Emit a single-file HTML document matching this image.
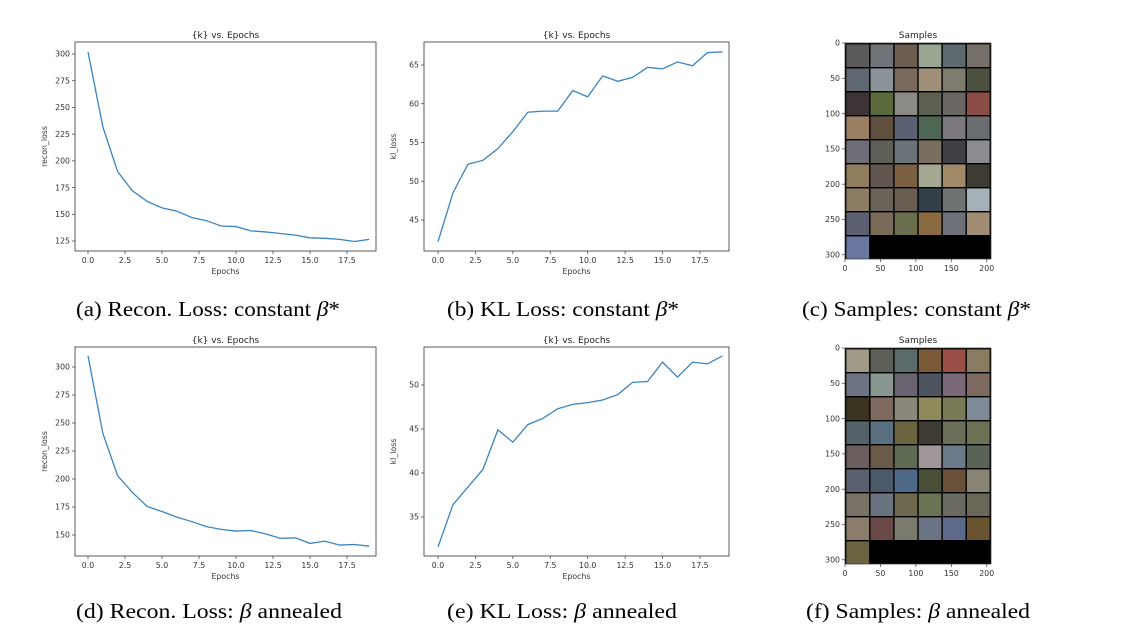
<!DOCTYPE html>
<html><head><meta charset="utf-8">
<style>
html,body{margin:0;padding:0;background:#fff;}
svg{display:block;}
.tk{font-family:"DejaVu Sans","Liberation Sans",sans-serif;font-size:7.8px;fill:#333;}
.tt{font-family:"DejaVu Sans","Liberation Sans",sans-serif;font-size:9px;fill:#222;}
.cap{font-family:"Liberation Serif",serif;font-size:21px;fill:#000;}
</style></head>
<body>
<svg id="fig" width="1130" height="632" viewBox="0 0 1130 632" xmlns="http://www.w3.org/2000/svg">
<text class="cap" x="76" y="316" textLength="264" lengthAdjust="spacingAndGlyphs">(a) Recon. Loss: constant <tspan font-style="italic">β</tspan>*</text>
<text class="cap" x="447" y="316" textLength="232" lengthAdjust="spacingAndGlyphs">(b) KL Loss: constant <tspan font-style="italic">β</tspan>*</text>
<text class="cap" x="802" y="316" textLength="229" lengthAdjust="spacingAndGlyphs">(c) Samples: constant <tspan font-style="italic">β</tspan>*</text>
<text class="cap" x="76" y="618" textLength="266" lengthAdjust="spacingAndGlyphs">(d) Recon. Loss: <tspan font-style="italic">β</tspan> annealed</text>
<text class="cap" x="447" y="618" textLength="230" lengthAdjust="spacingAndGlyphs">(e) KL Loss: <tspan font-style="italic">β</tspan> annealed</text>
<text class="cap" x="806" y="618" textLength="224" lengthAdjust="spacingAndGlyphs">(f) Samples: <tspan font-style="italic">β</tspan> annealed</text>
</svg>
<script>
const epochs = [0,1,2,3,4,5,6,7,8,9,10,11,12,13,14,15,16,17,18,19];
const xTicks = [0,2.5,5,7.5,10,12.5,15,17.5];
const reconConst = [302,232,190,172,162,156,153,147,144,139,138.5,134.5,133.5,132,130.5,128,127.5,126.5,124.5,126.5];
const klConst = [42.2,48.5,52.2,52.7,54.2,56.4,58.9,59.05,59.05,61.7,60.9,63.6,62.9,63.4,64.7,64.5,65.4,64.9,66.6,66.7];
const reconAnneal = [310,241,203,188,175.5,171,166,162,157.5,155,153.5,154,151,147,147.5,142.5,144.5,141,141.5,140];
const klAnneal = [31.6,36.4,38.4,40.4,44.9,43.5,45.5,46.2,47.3,47.8,48,48.3,48.9,50.3,50.4,52.6,50.9,52.6,52.4,53.3];
const reconConstTicks = [125,150,175,200,225,250,275,300];
const klConstTicks = [45,50,55,60,65];
const reconAnnealTicks = [150,175,200,225,250,275,300];
const klAnnealTicks = [35,40,45,50];
const sampleTicksX = [0,50,100,150,200];
const sampleTicksY = [0,50,100,150,200,250,300];

const NS = "http://www.w3.org/2000/svg";
const fig = document.getElementById('fig');
function mk(tag, attrs, parent){
  const e = document.createElementNS(NS, tag);
  for (const k in attrs) e.setAttribute(k, attrs[k]);
  (parent||fig).appendChild(e);
  return e;
}
function fmt(v){ return Number.isInteger(v) ? v.toFixed(1) : String(v); }

function lineChart(name, box, xs, ys, yTicks, yLabel, yCal){
  const g = mk('g', {});
  
  
  const xScale = v => box.x0x + (v) * box.xu;
  const yScale = v => yCal[1] + (v - yCal[0]) * (yCal[3]-yCal[1])/(yCal[2]-yCal[0]);
  const frame = mk('rect', {x:box.l, y:box.t, width:box.r-box.l, height:box.b-box.t, fill:'none', stroke:'#333', 'stroke-width':0.8}, g);
  
  
  const title = mk('text', {x:(box.l+box.r)/2, y:box.t-4, 'text-anchor':'middle', class:'tt'}, g);
  title.textContent = '{k} vs. Epochs';
  
  
  xTicks.forEach(v => {
    const x = xScale(v);
    mk('line', {x1:x, x2:x, y1:box.b, y2:box.b+3, stroke:'#333', 'stroke-width':0.7}, g);
    const t = mk('text', {x:x, y:box.b+12, 'text-anchor':'middle', class:'tk'}, g);
    t.textContent = fmt(v);
    
    
  });
  yTicks.forEach(v => {
    const y = yScale(v);
    mk('line', {x1:box.l-3, x2:box.l, y1:y, y2:y, stroke:'#333', 'stroke-width':0.7}, g);
    const t = mk('text', {x:box.l-5, y:y+2.7, 'text-anchor':'end', class:'tk'}, g);
    t.textContent = v;
    
    
  });
  const xl = mk('text', {x:(box.l+box.r)/2, y:box.b+23, 'text-anchor':'middle', class:'tk'}, g);
  xl.textContent = 'Epochs';
  
  
  const yx = box.l - 28, ym = (box.t+box.b)/2;
  const yl = mk('text', {x:yx, y:ym, 'text-anchor':'middle', class:'tk', transform:`rotate(-90 ${yx} ${ym})`}, g);
  yl.textContent = yLabel;
  
  
  const pts = xs.map((x,i) => xScale(x).toFixed(2) + ',' + yScale(ys[i]).toFixed(2)).join(' ');
  const pl = mk('polyline', {points:pts, fill:'none', stroke:'#3a84c1', 'stroke-width':1.3}, g);
  
  
}

lineChart('recon-loss-constant', {l:75,r:376,t:42,b:251,x0x:88,xu:14.8}, epochs, reconConst, reconConstTicks, 'recon_loss', [300,54,125,241]);
lineChart('kl-loss-constant', {l:424,r:729,t:42,b:251,x0x:438,xu:14.97}, epochs, klConst, klConstTicks, 'kl_loss', [65,65,45,220]);
lineChart('recon-loss-annealed', {l:75,r:376,t:347,b:556,x0x:88,xu:14.8}, epochs, reconAnneal, reconAnnealTicks, 'recon_loss', [300,367,150,535]);
lineChart('kl-loss-annealed', {l:424,r:729,t:347,b:556,x0x:438,xu:14.97}, epochs, klAnneal, klAnnealTicks, 'kl_loss', [50,385,35,517]);

const palA = ['#5a5a58','#6f7478','#6b5d50','#9aa592','#5d6a6e','#77706a','#5f6770','#8a9499','#7a6a5c','#a09077','#7e7c6e','#4c5140','#3e3436','#5b6a3a','#8c8a84','#5c6050','#6a6661','#8a4d46','#9a7f62','#5f5040','#5b6170','#4e6654','#7c7880','#6a6d70','#6f6d78','#5e6058','#6b7478','#7a6f5e','#3f4146','#8a8c90','#8f7d5e','#5f5650','#7a6040','#a4a890','#a08a68','#3e3a34','#8a7d62','#6a6458','#6a5d52','#33404a','#6f7472','#a6b0b8','#5d6070','#7a6a58','#6a6e4e','#8a6a40','#6e7278','#a08c74','#6a78a0'];
const palB = ['#a29a88','#5c6058','#5b6a6a','#7a5a38','#9a5048','#8a7c60','#6f7484','#8a9690','#6a6470','#4e5460','#7a6a78','#7e6a60','#3a3420','#7e6a60','#8a887a','#8e8a5a','#7a7a58','#7e8a96','#56626a','#5a7080','#6a6440','#3e3c34','#6a6e58','#6c7256','#6a5e5e','#6a5a4a','#5e6a52','#a09898','#6a7a88','#5a6456','#5a6070','#4a5a6a','#4e6a88','#4a5038','#6a5038','#8a8474','#7a7266','#6a7480','#6e684e','#6a7454','#6a6a62','#6a6658','#8a7e6a','#6a4a48','#7a7a6e','#6a7484','#5e6a8a','#6a5430','#6a6440'];

function samples(name, x0, y0, pal){
  const g = mk('g', {});
  
  
  const W = 146, H = 216, sx = W/206, sy = H/306;
  mk('rect', {x:x0, y:y0, width:W, height:H, fill:'#000'}, g);
  let k = 0;
  for (let r = 0; r < 9; r++) for (let c = 0; c < 6; c++) {
    if (r === 8 && c > 0) continue;
    const tile = mk('rect', {x:x0 + (2 + c*34)*sx, y:y0 + (2 + r*34)*sy, width:32*sx, height:32*sy, fill:pal[k % pal.length]}, g);
    
    
    k++;
  }
  mk('rect', {x:x0, y:y0, width:W, height:H, fill:'none', stroke:'#333', 'stroke-width':0.7}, g);
  const t = mk('text', {x:x0+W/2, y:y0-5, 'text-anchor':'middle', class:'tt'}, g);
  t.textContent = 'Samples';
  
  
  sampleTicksX.forEach(v => {
    const x = x0 + v*sx;
    mk('line', {x1:x, x2:x, y1:y0+H, y2:y0+H+3, stroke:'#333', 'stroke-width':0.7}, g);
    const l = mk('text', {x:x, y:y0+H+12, 'text-anchor':'middle', class:'tk'}, g);
    l.textContent = v;
    
    
  });
  sampleTicksY.forEach(v => {
    const y = y0 + v*sy;
    mk('line', {x1:x0-3, x2:x0, y1:y, y2:y, stroke:'#333', 'stroke-width':0.7}, g);
    const l = mk('text', {x:x0-5, y:y+2.7, 'text-anchor':'end', class:'tk'}, g);
    l.textContent = v;
    
    
  });
}
samples('samples-constant', 845, 43, palA);
samples('samples-annealed', 845, 348, palB);
</script>
</body></html>
